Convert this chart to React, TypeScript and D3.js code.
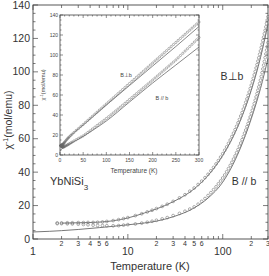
import React, { useEffect, useRef } from 'react';
import * as d3 from 'd3';

// temperatures of the measured points (K)
const temps = [1.8, 2, 2.3, 2.6, 3, 3.4, 3.8, 4.3, 4.8, 5.4, 6, 7, 8, 9, 10, 12, 14, 16, 18, 20, 23, 26, 30, 35, 40, 45,
  50, 55, 60, 65, 70, 75, 80, 85, 90, 95, 100, 105, 110, 115, 120, 125, 130, 135, 140, 145, 150, 155, 160, 165, 170, 175,
  180, 185, 190, 195, 200, 205, 210, 215, 220, 225, 230, 235, 240, 245, 250, 255, 260, 265, 270, 275, 280, 285, 290, 295, 300];

// inverse susceptibility, B perpendicular to b
const perpData = [9.6, 9.6, 9.7, 9.7, 9.8, 9.8, 9.9, 9.9, 10.0, 10.2, 10.5, 11.0, 11.6, 12.2, 12.8, 14.0, 15.1, 16.2, 17.2, 18.2, 19.5, 20.8, 22.5, 24.6, 26.5, 28.6,
  30.5, 32.6, 34.6, 36.7, 38.7, 40.8, 42.8, 44.9, 46.9, 49.0, 51.0, 53.1, 55.1, 57.2, 59.2, 61.3, 63.3, 65.4, 67.4, 69.5, 71.5, 73.6, 75.6, 77.7, 79.7, 81.8,
  83.8, 85.9, 87.9, 90.0, 92.0, 94.1, 96.1, 98.2, 100.2, 102.3, 104.3, 106.4, 108.4, 110.5, 112.5, 114.6, 116.6, 118.7, 120.7, 122.8, 124.8, 126.9, 128.9, 131.0, 133.0];

// inverse susceptibility, B parallel to b
const paraData = [9.2, 9.2, 9.1, 9.0, 8.9, 8.7, 8.5, 8.3, 8.1, 8.0, 7.9, 7.9, 8.0, 8.3, 8.6, 9.0, 9.5, 10.0, 10.6, 11.2, 12.0, 12.8, 14.0, 15.3, 16.6, 17.9,
  19.2, 20.8, 22.5, 24.2, 26.0, 27.7, 29.5, 31.2, 33.0, 34.7, 36.5, 38.3, 40.2, 42.1, 44.0, 45.9, 47.8, 49.7, 51.6, 53.5, 55.5, 57.4, 59.4, 61.3, 63.3, 65.2,
  67.2, 69.1, 71.1, 73.0, 75.0, 77.0, 79.0, 81.0, 83.0, 85.0, 87.0, 89.0, 91.0, 93.0, 95.0, 97.2, 99.5, 101.7, 104.0, 106.2, 108.5, 110.7, 113.0, 115.2, 117.5];

// fitted curves
const perpFitT = [2, 3, 5, 7, 10, 15, 20, 30, 50, 70, 100, 150, 200, 250, 300];
const perpFit = [9.5, 9.7, 10.1, 10.9, 12.6, 15.6, 18.0, 22.3, 30.0, 38.0, 50.0, 69.5, 89.0, 108.5, 128.5];
const paraFitT = [1, 1.5, 2, 3, 5, 7, 10, 15, 20, 30, 50, 70, 100, 150, 200, 250, 300];
const paraFit = [4.2, 4.6, 5.0, 5.7, 6.8, 7.6, 8.5, 9.6, 10.7, 13.3, 18.6, 24.5, 34.0, 53.0, 72.0, 90.0, 108.0];

const W = 269;
const H = 276;

export default function App() {
  const svgRef = useRef<SVGSVGElement>(null);

  useEffect(() => {
    if (!svgRef.current) return;
    const svg = d3.select(svgRef.current);
    svg.selectAll('*').remove();

    const ink = '#444';
    const font = "'Liberation Sans', Arial, sans-serif";

    svg.append('rect').attr('width', W).attr('height', H).attr('fill', '#fff');

    // main scales
    const x = d3.scaleLog().domain([1, 300]).range([33, 268]);
    const y = d3.scaleLinear().domain([0, 140]).range([239, 5]);
    const [x0, x1] = x.range();
    const [y0, y1] = y.range();

    const main = svg.append('g');
    main.append('rect')
      .attr('x', x0).attr('y', y1).attr('width', x1 - x0).attr('height', y0 - y1)
      .attr('fill', 'none').attr('stroke', ink).attr('stroke-width', 0.9);

    x.ticks().forEach(t => {
      const lead = Math.round(t / Math.pow(10, Math.floor(Math.log10(t) + 1e-9)));
      const len = lead === 1 ? 5 : 3;
      main.append('line').attr('x1', x(t)).attr('x2', x(t)).attr('y1', y0).attr('y2', y0 - len)
        .attr('stroke', ink).attr('stroke-width', 0.7);
      main.append('line').attr('x1', x(t)).attr('x2', x(t)).attr('y1', y1).attr('y2', y1 + len)
        .attr('stroke', ink).attr('stroke-width', 0.7);
      if (lead === 1) {
        main.append('text').attr('x', x(t)).attr('y', 255).attr('text-anchor', 'middle')
          .attr('font-family', font).attr('font-size', 10.5).attr('fill', '#333').text(t);
      } else if ((lead <= 6 && t < 100) || t >= 200) {
        main.append('text').attr('x', x(t)).attr('y', 246).attr('text-anchor', 'middle')
          .attr('font-family', font).attr('font-size', 7).attr('fill', '#333').text(lead);
      }
    });

    y.ticks(28).forEach(v => {
      const major = v % 20 === 0;
      const len = major ? 5 : 2.5;
      main.append('line').attr('x1', x0).attr('x2', x0 + len).attr('y1', y(v)).attr('y2', y(v))
        .attr('stroke', ink).attr('stroke-width', 0.7);
      main.append('line').attr('x1', x1).attr('x2', x1 - len).attr('y1', y(v)).attr('y2', y(v))
        .attr('stroke', ink).attr('stroke-width', 0.7);
      if (major) {
        main.append('text').attr('x', x0 - 3).attr('y', y(v) + 3.5).attr('text-anchor', 'end')
          .attr('font-family', font).attr('font-size', 10.5).attr('fill', '#333').text(v);
      }
    });

    main.append('text').attr('x', 150).attr('y', 270).attr('text-anchor', 'middle')
      .attr('font-family', font).attr('font-size', 11).attr('fill', '#333').text('Temperature (K)');

    const yl = main.append('text').attr('transform', 'translate(12,120) rotate(-90)')
      .attr('text-anchor', 'middle').attr('font-family', font).attr('font-size', 10.5).attr('fill', '#333');
    yl.append('tspan').text('χ');
    yl.append('tspan').attr('dy', -4).attr('font-size', 7).text('-1');
    yl.append('tspan').attr('dy', 4).text('(mol/emu)');

    const lineMain = d3.line<[number, number]>().x(d => x(d[0])).y(d => y(d[1])).curve(d3.curveMonotoneX);
    const fits: [number[], number[]][] = [[perpFitT, perpFit], [paraFitT, paraFit]];
    fits.forEach(([ts, vs]) => {
      main.append('path').datum(ts.map((t, i) => [t, vs[i]] as [number, number]))
        .attr('d', lineMain).attr('fill', 'none').attr('stroke', '#555').attr('stroke-width', 0.8);
    });
    [perpData, paraData].forEach(vs => {
      main.selectAll(null).data(temps.map((t, i) => [t, vs[i]])).enter().append('circle')
        .attr('cx', d => x(d[0])).attr('cy', d => y(d[1])).attr('r', 1.4)
        .attr('fill', 'none').attr('stroke', '#777').attr('stroke-width', 0.6);
    });

    main.append('text').attr('x', 232).attr('y', 80).attr('text-anchor', 'middle')
      .attr('font-family', font).attr('font-size', 10.5).attr('fill', '#333').text('B⊥b');
    main.append('text').attr('x', 244).attr('y', 185).attr('text-anchor', 'middle')
      .attr('font-family', font).attr('font-size', 10.5).attr('fill', '#333').text('B // b');
    const yb = main.append('text').attr('x', 50).attr('y', 185)
      .attr('font-family', font).attr('font-size', 11).attr('fill', '#333');
    yb.append('tspan').text('YbNiSi');
    yb.append('tspan').attr('dy', 5).attr('font-size', 8).text('3');

    // inset
    const ix = d3.scaleLinear().domain([0, 300]).range([60, 199]);
    const iy = d3.scaleLinear().domain([0, 140]).range([155, 15]);
    const [ix0, ix1] = ix.range();
    const [iy0, iy1] = iy.range();
    const inset = svg.append('g');
    inset.append('rect')
      .attr('x', ix0).attr('y', iy1).attr('width', ix1 - ix0).attr('height', iy0 - iy1)
      .attr('fill', '#fff').attr('stroke', ink).attr('stroke-width', 0.8);

    ix.ticks(30).forEach(t => {
      const major = t % 50 === 0;
      const len = major ? 3 : 1.5;
      inset.append('line').attr('x1', ix(t)).attr('x2', ix(t)).attr('y1', iy0).attr('y2', iy0 - len)
        .attr('stroke', ink).attr('stroke-width', 0.6);
      inset.append('line').attr('x1', ix(t)).attr('x2', ix(t)).attr('y1', iy1).attr('y2', iy1 + len)
        .attr('stroke', ink).attr('stroke-width', 0.6);
      if (major) {
        inset.append('text').attr('x', ix(t)).attr('y', iy0 + 7).attr('text-anchor', 'middle')
          .attr('font-family', font).attr('font-size', 5).attr('fill', '#444').text(t);
      }
    });
    iy.ticks(28).forEach(v => {
      const major = v % 20 === 0;
      const len = major ? 3 : 1.5;
      inset.append('line').attr('x1', ix0).attr('x2', ix0 + len).attr('y1', iy(v)).attr('y2', iy(v))
        .attr('stroke', ink).attr('stroke-width', 0.6);
      inset.append('line').attr('x1', ix1).attr('x2', ix1 - len).attr('y1', iy(v)).attr('y2', iy(v))
        .attr('stroke', ink).attr('stroke-width', 0.6);
      if (major) {
        inset.append('text').attr('x', ix0 - 2).attr('y', iy(v) + 2).attr('text-anchor', 'end')
          .attr('font-family', font).attr('font-size', 5).attr('fill', '#444').text(v);
      }
    });
    inset.append('text').attr('x', 134).attr('y', 173).attr('text-anchor', 'middle')
      .attr('font-family', font).attr('font-size', 6.5).attr('fill', '#444').text('Temperature (K)');
    const iyl = inset.append('text').attr('transform', 'translate(45,85) rotate(-90)')
      .attr('text-anchor', 'middle').attr('font-family', font).attr('font-size', 5.5).attr('fill', '#444');
    iyl.append('tspan').text('χ');
    iyl.append('tspan').attr('dy', -2).attr('font-size', 4).text('-1');
    iyl.append('tspan').attr('dy', 2).text('(mol/emu)');

    const lineInset = d3.line<[number, number]>().x(d => ix(d[0])).y(d => iy(d[1])).curve(d3.curveMonotoneX);
    fits.forEach(([ts, vs]) => {
      inset.append('path').datum(ts.map((t, i) => [t, vs[i]] as [number, number]))
        .attr('d', lineInset).attr('fill', 'none').attr('stroke', '#555').attr('stroke-width', 0.7);
    });
    [perpData, paraData].forEach(vs => {
      inset.selectAll(null).data(temps.map((t, i) => [t, vs[i]])).enter().append('circle')
        .attr('cx', d => ix(d[0])).attr('cy', d => iy(d[1])).attr('r', 1.1)
        .attr('fill', 'none').attr('stroke', '#666').attr('stroke-width', 0.5);
    });

    inset.append('text').attr('x', 126).attr('y', 77).attr('text-anchor', 'middle')
      .attr('font-family', font).attr('font-size', 5.5).attr('fill', '#444').text('B⊥b');
    inset.append('text').attr('x', 162).attr('y', 100).attr('text-anchor', 'middle')
      .attr('font-family', font).attr('font-size', 5.5).attr('fill', '#444').text('B // b');
  }, []);

  return (
    <svg ref={svgRef} width={W} height={H} viewBox={`0 0 ${W} ${H}`}
      style={{ position: 'absolute', left: 0, top: 0, display: 'block' }} />
  );
}
